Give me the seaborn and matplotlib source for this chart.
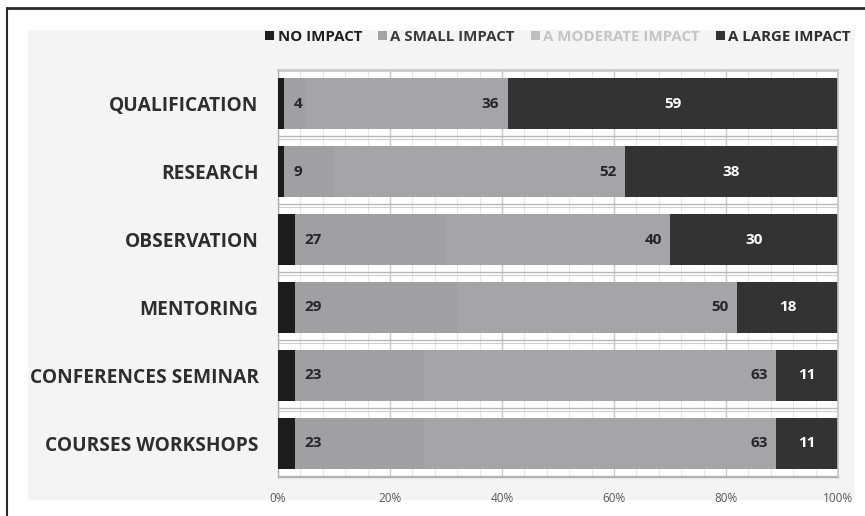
import matplotlib
matplotlib.use("Agg")
import matplotlib.pyplot as plt
import seaborn as sns
import pandas as pd
import numpy as np
from matplotlib.patches import Patch, Rectangle
from matplotlib.lines import Line2D

categories = ["QUALIFICATION", "RESEARCH", "OBSERVATION", "MENTORING",
              "CONFERENCES SEMINAR", "COURSES WORKSHOPS"]
series_names = ["NO IMPACT", "A SMALL IMPACT", "A MODERATE IMPACT", "A LARGE IMPACT"]
no_impact = [1, 1, 3, 3, 3, 3]
small_impact = [4, 9, 27, 29, 23, 23]
moderate_impact = [36, 52, 40, 50, 63, 63]
large_impact = [59, 38, 30, 18, 11, 11]
x_ticks = [0, 20, 40, 60, 80, 100]
x_tick_labels = ["0%", "20%", "40%", "60%", "80%", "100%"]

bar_colors = ["#1c1c1c", "#a0a0a3", "#a5a5a8", "#333333"]
legend_sq = ["#1e1e1e", "#a3a3a3", "#bfbfbf", "#333333"]
legend_txt = ["#1e1e1e", "#3a3a3a", "#c4c4c4", "#2e2e2e"]

sns.set_theme(style="white")
plt.rcParams["font.family"] = ["Open Sans", "DejaVu Sans"]

W, H = 865, 516
fig = plt.figure(figsize=(W / 100, H / 100), dpi=100)
fig.patch.set_facecolor("white")

# grey panel
fig.patches.append(Rectangle((28 / W, 1 - 500 / H), (855 - 28) / W, (500 - 30) / H,
                             transform=fig.transFigure, facecolor="#f4f4f4",
                             edgecolor="none", zorder=-10))
# frame lines (top and left)
fig.lines.append(Line2D([7 / W, 1], [1 - 8 / H, 1 - 8 / H], transform=fig.transFigure,
                        color="#2a2a2a", lw=2, zorder=-5))
fig.lines.append(Line2D([7 / W, 7 / W], [0, 1 - 8 / H], transform=fig.transFigure,
                        color="#2a2a2a", lw=1.5, zorder=-5))

ax = fig.add_axes([278 / W, 1 - 477 / H, 560 / W, (477 - 70) / H])
ax.set_facecolor("white")
ax.set_zorder(1)

df = pd.DataFrame({"category": categories,
                   "s0": no_impact, "s1": small_impact,
                   "s2": moderate_impact, "s3": large_impact})
layers = [df["s0"].values, df["s1"].values, df["s2"].values, df["s3"].values]
cum = np.cumsum(np.vstack(layers), axis=0)

# grid
for v in np.arange(0, 101, 4):
    major = (v % 20 == 0)
    ax.axvline(v, color="#c8c8c8" if major else "#e6e6e6", lw=1.0 if major else 0.8, zorder=0)
for b in np.arange(-0.5, len(categories) + 0.5, 1.0):
    ax.axhline(b - 0.02, color="#b8b8b8", lw=1.0, zorder=0.5)
    ax.axhline(b + 0.02, color="#cfcfcf", lw=0.8, zorder=0.5)

for i in range(3, -1, -1):
    d = pd.DataFrame({"category": categories, "value": cum[i]})
    sns.barplot(data=d, x="value", y="category", orient="h", color=bar_colors[i],
                width=0.75, saturation=1, ax=ax, zorder=2 + (3 - i),
                linewidth=0, edgecolor="none")

starts = cum - np.vstack(layers)
lab_kw = dict(fontsize=11, fontweight="bold", zorder=10, va="center")
for j in range(len(categories)):
    ax.annotate(str(small_impact[j]), (starts[1][j], j), xytext=(7, 0),
                textcoords="offset points", ha="left", color="#262626", **lab_kw)
    ax.annotate(str(moderate_impact[j]), (cum[2][j], j), xytext=(-6, 0),
                textcoords="offset points", ha="right", color="#262626", **lab_kw)
    ax.annotate(str(large_impact[j]), ((starts[3][j] + cum[3][j]) / 2, j),
                ha="center", color="white", **lab_kw)

ax.set_xlim(0, 100)
ax.set_ylim(len(categories) - 0.5, -0.5)
ax.set_xticks(x_ticks)
ax.set_xticklabels(x_tick_labels)
ax.tick_params(axis="x", labelsize=8.5, colors="#5a5a5a", length=0, pad=11)
ax.tick_params(axis="y", length=0, pad=14)
for lbl in ax.get_yticklabels():
    lbl.set_fontsize(13.8)
    lbl.set_fontweight("bold")
    lbl.set_color("#2e2e2e")
ax.set_xlabel("")
ax.set_ylabel("")
for s in ["top", "right"]:
    ax.spines[s].set_color("#c4c4c4")
    ax.spines[s].set_linewidth(1.2)
for s in ["left", "bottom"]:
    ax.spines[s].set_color("#b0b0b0")
    ax.spines[s].set_linewidth(1.0)

handles = [Patch(facecolor=c, edgecolor="none") for c in legend_sq]
leg = fig.legend(handles, series_names, loc="center right",
                 bbox_to_anchor=(851 / W, 1 - 37 / H), ncol=4, frameon=False,
                 borderpad=0, borderaxespad=0,
                 handlelength=0.6, handleheight=0.6, handletextpad=0.25,
                 columnspacing=1.05, prop={"weight": "bold", "size": 10.8})
for t, c in zip(leg.get_texts(), legend_txt):
    t.set_color(c)

fig.savefig("out.png", dpi=100, facecolor="white")
